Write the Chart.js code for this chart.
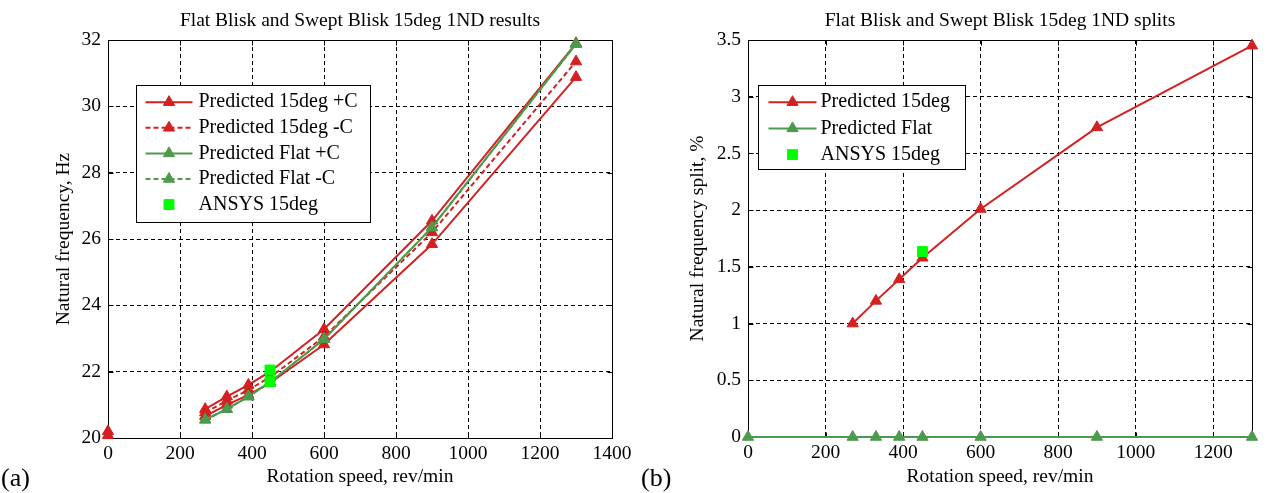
<!DOCTYPE html>
<html lang="en">
<head>
<meta charset="UTF-8">
<title>Flat Blisk and Swept Blisk 15deg 1ND</title>
<style>
  body { margin: 0; background: #fff; }
  .panel { position: absolute; top: 0; height: 493px; }
  #panelA { left: 0; width: 640px; }
  #panelB { left: 640px; width: 627px; }
  .tag { position: absolute; top: 463px; font: 26px "Liberation Serif", serif; color: #000; }
</style>
</head>
<body>
<div class="panel" id="panelA"><canvas id="chartA"></canvas></div>
<div class="panel" id="panelB"><canvas id="chartB"></canvas></div>
<div class="tag" style="left:1px">(a)</div>
<div class="tag" style="left:641px">(b)</div>

<script src="https://cdn.jsdelivr.net/npm/chart.js"></script>
<script>
// (a) natural frequency, Hz vs rotation speed, rev/min
const speedsA = [270, 330, 390, 450, 600, 900, 1300];
const swept15PlusUpper = [20.87, 21.25, 21.6, 22.0, 23.28, 26.55, 31.9];
const swept15PlusLower = [20.66, 21.0, 21.3, 21.66, 22.82, 25.84, 30.88];
const swept15Minus = [20.77, 21.12, 21.45, 21.83, 23.05, 26.2, 31.35];
const flatPlus = [20.55, 20.87, 21.25, 21.68, 22.98, 26.35, 31.88];
const flatMinus = [20.55, 20.87, 21.25, 21.68, 22.98, 26.35, 31.88];
const staticSpeed = [0, 0];
const swept15Static = [20.2, 20.08];
const ansysSpeedA = [450, 450];
const ansysFreq = [22.05, 21.7];
const xTicksA = [0, 200, 400, 600, 800, 1000, 1200, 1400];
const yTicksA = [20, 22, 24, 26, 28, 30, 32];

// (b) natural frequency split, %
const speeds15 = [270, 330, 390, 450, 600, 900, 1300];
const split15 = [1.0, 1.2, 1.39, 1.58, 2.01, 2.73, 3.45];
const speedsFlat = [0, 270, 330, 390, 450, 600, 900, 1300];
const splitFlat = [0, 0, 0, 0, 0, 0, 0, 0];
const ansysSpeedB = [450];
const ansysSplit = [1.635];
const xTicksB = [0, 200, 400, 600, 800, 1000, 1200];
const yTicksB = [0, 0.5, 1, 1.5, 2, 2.5, 3, 3.5];

const RED = '#d42020';
const GREEN = '#4c9a4c';
const LIME = '#00ff00';
const serif = '"Liberation Serif", "Times New Roman", serif';
const font = { family: serif, size: 19.5, weight: 'normal' };

function pts(xs, ys) {
  return xs.map((x, i) => ({ x: x, y: ys[i] }));
}

function line(label, xs, ys, color, dash, order, inLegend) {
  return {
    label: label, data: pts(xs, ys), order: order, inLegend: inLegend,
    borderColor: color, backgroundColor: color, borderWidth: 2, borderDash: dash,
    pointStyle: 'triangle', pointRadius: 6.5, pointHoverRadius: 6.5,
    pointBorderWidth: 1, pointBackgroundColor: color, pointBorderColor: color,
    tension: 0, clip: false
  };
}

function marks(label, xs, ys, color, style, radius, order, inLegend) {
  return {
    label: label, data: pts(xs, ys), order: order, inLegend: inLegend, showLine: false,
    borderColor: color, backgroundColor: color, borderWidth: 0, borderDash: [],
    pointStyle: style, pointRadius: radius, pointHoverRadius: radius,
    pointBorderWidth: 1, pointBackgroundColor: color, pointBorderColor: color,
    clip: false
  };
}

// solid box round the plot with small inward ticks, like matlab
const framePlugin = {
  id: 'frame',
  beforeDatasetsDraw(chart) {
    const { ctx, chartArea: a, scales: { x, y } } = chart;
    const l = Math.round(a.left) + 0.5, r = Math.round(a.right) + 0.5;
    const t = Math.round(a.top) + 0.5, b = Math.round(a.bottom) + 0.5;
    ctx.save();
    ctx.strokeStyle = '#000';
    ctx.lineWidth = 1;
    ctx.setLineDash([]);
    ctx.strokeRect(l, t, r - l, b - t);
    ctx.beginPath();
    x.ticks.forEach(tk => {
      const px = Math.round(x.getPixelForValue(tk.value)) + 0.5;
      if (px <= l + 1 || px >= r - 1) return;
      ctx.moveTo(px, b); ctx.lineTo(px, b - 5);
      ctx.moveTo(px, t); ctx.lineTo(px, t + 5);
    });
    y.ticks.forEach(tk => {
      const py = Math.round(y.getPixelForValue(tk.value)) + 0.5;
      if (py <= t + 1 || py >= b - 1) return;
      ctx.moveTo(l, py); ctx.lineTo(l + 5, py);
      ctx.moveTo(r, py); ctx.lineTo(r - 5, py);
    });
    ctx.stroke();
    ctx.restore();
  }
};

// boxed legend inside the plot: line sample with marker, then label
const boxLegend = {
  id: 'boxLegend',
  afterDraw(chart, args, o) {
    const ctx = chart.ctx, a = chart.chartArea;
    const items = chart.data.datasets.filter(d => d.inLegend);
    const x0 = Math.round(a.left + o.left) + 0.5, y0 = Math.round(a.top + o.top) + 0.5;
    ctx.save();
    ctx.fillStyle = '#fff';
    ctx.fillRect(x0, y0, o.width, o.height);
    ctx.strokeStyle = '#000';
    ctx.lineWidth = 1;
    ctx.setLineDash([]);
    ctx.strokeRect(x0, y0, o.width, o.height);
    ctx.font = '20px ' + serif;
    ctx.textBaseline = 'middle';
    ctx.textAlign = 'left';
    items.forEach((d, i) => {
      const yy = y0 + o.first + i * o.gap;
      if (d.showLine !== false) {
        ctx.beginPath();
        ctx.setLineDash(d.borderDash);
        ctx.strokeStyle = d.borderColor;
        ctx.lineWidth = d.borderWidth;
        ctx.moveTo(x0 + o.lineFrom, yy);
        ctx.lineTo(x0 + o.lineTo, yy);
        ctx.stroke();
        ctx.setLineDash([]);
      }
      ctx.fillStyle = d.pointBackgroundColor;
      ctx.strokeStyle = d.pointBorderColor;
      ctx.lineWidth = d.pointBorderWidth;
      Chart.helpers.drawPoint(ctx, { pointStyle: d.pointStyle, radius: d.pointRadius, borderWidth: d.pointBorderWidth, rotation: 0 }, x0 + o.mark, yy);
      ctx.fillStyle = '#000';
      ctx.fillText(d.label, x0 + o.text, yy);
    });
    ctx.restore();
  }
};

function axis(min, max, tickList, title, isX, fitSize, pad) {
  return {
    type: 'linear', min: min, max: max,
    afterBuildTicks: s => { s.ticks = tickList.map(v => ({ value: v })); },
    afterFit: s => { if (isX) s.height = fitSize; else s.width = fitSize; },
    grid: { color: '#000', lineWidth: 1, drawTicks: false },
    border: { display: true, color: '#000', width: 1, dash: [4, 3] },
    ticks: { color: '#000', font: font, padding: isX ? 4 : 7, maxRotation: 0, autoSkip: false, callback: v => String(v) },
    title: { display: true, text: title, color: '#000', font: font, padding: pad }
  };
}

function options(titleText, xScale, yScale, padLeft, padRight, legendOpts) {
  return {
    responsive: true,
    maintainAspectRatio: false,
    animation: false,
    events: [],
    layout: { padding: { left: padLeft, right: padRight, top: 0, bottom: 0 } },
    plugins: {
      legend: { display: false },
      tooltip: { enabled: false },
      title: { display: true, text: titleText, color: '#000', font: font, fullSize: false, padding: { top: 9, bottom: 7.6 } },
      boxLegend: legendOpts
    },
    scales: { x: xScale, y: yScale }
  };
}

new Chart(document.getElementById('chartA'), {
  type: 'line',
  data: {
    datasets: [
      line('Predicted 15deg +C', speedsA, swept15PlusUpper, RED, [], 2, true),
      line('Predicted 15deg +C', speedsA, swept15PlusLower, RED, [], 2, false),
      line('Predicted 15deg -C', speedsA, swept15Minus, RED, [5, 3], 2, true),
      line('Predicted Flat +C', speedsA, flatPlus, GREEN, [], 1, true),
      line('Predicted Flat -C', speedsA, flatMinus, GREEN, [5, 3], 1, true),
      marks('Predicted 15deg static', staticSpeed, swept15Static, RED, 'triangle', 6.5, 2, false),
      marks('ANSYS 15deg', ansysSpeedA, ansysFreq, LIME, 'rect', 7, 0, true)
    ]
  },
  options: options(
    'Flat Blisk and Swept Blisk 15deg 1ND results',
    axis(0, 1400, xTicksA, 'Rotation speed, rev/min', true, 55, { top: 0, bottom: 4 }),
    axis(20, 32, yTicksA, 'Natural frequency, Hz', false, 58, { top: 2, bottom: 0 }),
    50, 28,
    { left: 28, top: 45, width: 234, height: 137, first: 16.7, gap: 25.6, lineFrom: 9, lineTo: 56, mark: 32.5, text: 62 }
  ),
  plugins: [framePlugin, boxLegend]
});

new Chart(document.getElementById('chartB'), {
  type: 'line',
  data: {
    datasets: [
      line('Predicted 15deg', speeds15, split15, RED, [], 2, true),
      line('Predicted Flat', speedsFlat, splitFlat, GREEN, [], 1, true),
      marks('ANSYS 15deg', ansysSpeedB, ansysSplit, LIME, 'rect', 7, 0, true)
    ]
  },
  options: options(
    'Flat Blisk and Swept Blisk 15deg 1ND splits',
    axis(0, 1300, xTicksB, 'Rotation speed, rev/min', true, 56, { top: 0, bottom: 4 }),
    axis(0, 3.5, yTicksB, 'Natural frequency split, %', false, 64, { top: 2, bottom: 0 }),
    44, 15,
    { left: 10, top: 45, width: 207, height: 84, first: 16.7, gap: 26.2, lineFrom: 10, lineTo: 58, mark: 34, text: 62 }
  ),
  plugins: [framePlugin, boxLegend]
});
</script>
</body>
</html>
